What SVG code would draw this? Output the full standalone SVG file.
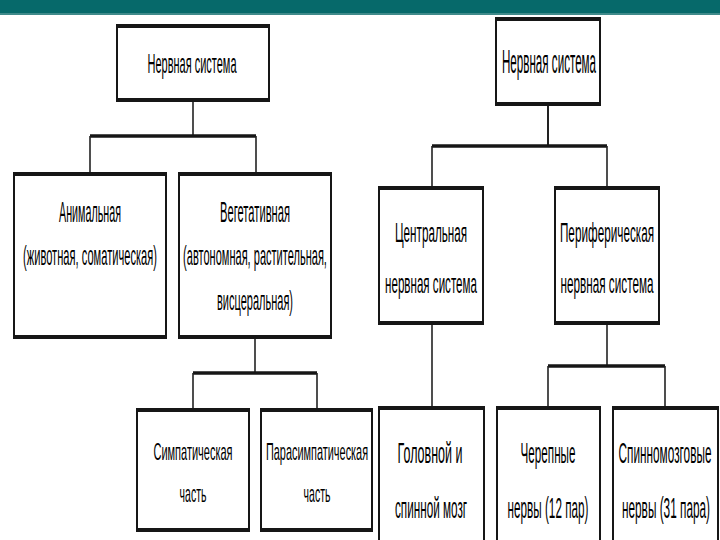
<svg xmlns="http://www.w3.org/2000/svg" width="720" height="540" viewBox="0 0 720 540">
<style>
.box{fill:#fff;stroke:#161616;stroke-width:2}
.edge{stroke:#161616;stroke-width:4;fill:none}
.conn{stroke:#222;stroke-width:1.6;fill:none}
.bar{stroke:#161616;stroke-width:3.5;fill:none}
text{font-family:"Liberation Sans",Arial,sans-serif;fill:#000;text-anchor:middle}
.f24{font-size:24px}.f28{font-size:27px}.f30{font-size:30px}.f34{font-size:34px}
</style>
<rect x="0" y="0" width="720" height="14" fill="#06696A"/>
<rect x="0" y="13" width="720" height="2" fill="#3f8a8a"/>
<rect x="0" y="15" width="720" height="525" fill="#fff"/>

<g id="connectors">
  <line class="conn" x1="193" y1="100" x2="193" y2="136"/>
  <line class="bar" x1="90" y1="136" x2="256" y2="136"/>
  <line class="conn" x1="90" y1="136" x2="90" y2="174"/>
  <line class="conn" x1="256" y1="136" x2="256" y2="174"/>
  <line class="conn" x1="255" y1="337" x2="255" y2="373"/>
  <line class="bar" x1="193" y1="373" x2="317" y2="373"/>
  <line class="conn" x1="193" y1="373" x2="193" y2="410"/>
  <line class="conn" x1="317" y1="373" x2="317" y2="410"/>

  <line class="conn" x1="548" y1="104" x2="548" y2="146" style="stroke-width:2"/>
  <line class="bar" x1="432" y1="146" x2="607" y2="146"/>
  <line class="conn" x1="432" y1="146" x2="432" y2="188"/>
  <line class="conn" x1="607" y1="146" x2="607" y2="188"/>
  <line class="conn" x1="432" y1="323" x2="432" y2="408"/>
  <line class="conn" x1="607" y1="323" x2="607" y2="366"/>
  <line class="bar" x1="548" y1="366" x2="665" y2="366"/>
  <line class="conn" x1="548" y1="366" x2="548" y2="408"/>
  <line class="conn" x1="665" y1="366" x2="665" y2="408"/>
</g>

<g id="n1">
  <rect class="box" x="117" y="26" width="152" height="74"/>
  <line class="edge" x1="116" y1="26" x2="270" y2="26"/><line class="edge" x1="116" y1="100" x2="270" y2="100"/>
  <text class="f28" transform="translate(192,73) scale(0.392,1)" textLength="227" lengthAdjust="spacingAndGlyphs">Нервная система</text>
</g>
<g id="n2">
  <rect class="box" x="14" y="174" width="152" height="163"/>
  <line class="edge" x1="13" y1="174" x2="167" y2="174"/><line class="edge" x1="13" y1="337" x2="167" y2="337"/>
  <text class="f30" transform="translate(90,222) scale(0.358,1)" textLength="173" lengthAdjust="spacingAndGlyphs">Анимальная</text>
  <text class="f28" transform="translate(90,265) scale(0.396,1)" textLength="338" lengthAdjust="spacingAndGlyphs">(животная, соматическая)</text>
</g>
<g id="n3">
  <rect class="box" x="179" y="174" width="152" height="163"/>
  <line class="edge" x1="178" y1="174" x2="332" y2="174"/><line class="edge" x1="178" y1="337" x2="332" y2="337"/>
  <text class="f30" transform="translate(255,222) scale(0.367,1)" textLength="191" lengthAdjust="spacingAndGlyphs">Вегетативная</text>
  <text class="f28" transform="translate(255,265) scale(0.392,1)" textLength="367" lengthAdjust="spacingAndGlyphs">(автономная, растительная,</text>
  <text class="f28" transform="translate(255,310) scale(0.392,1)" textLength="194" lengthAdjust="spacingAndGlyphs">висцеральная)</text>
</g>
<g id="n4">
  <rect class="box" x="137" y="410" width="112" height="120"/>
  <line class="edge" x1="136" y1="410" x2="250" y2="410"/><line class="edge" x1="136" y1="530" x2="250" y2="530"/>
  <text class="f24" transform="translate(193,460) scale(0.457,1)" textLength="173" lengthAdjust="spacingAndGlyphs">Симпатическая</text>
  <text class="f24" transform="translate(193,502) scale(0.44,1)" textLength="61" lengthAdjust="spacingAndGlyphs">часть</text>
</g>
<g id="n5">
  <rect class="box" x="261" y="410" width="111" height="120"/>
  <line class="edge" x1="260" y1="410" x2="373" y2="410"/><line class="edge" x1="260" y1="530" x2="373" y2="530"/>
  <text class="f24" transform="translate(317,460) scale(0.454,1)" textLength="225" lengthAdjust="spacingAndGlyphs">Парасимпатическая</text>
  <text class="f24" transform="translate(317,502) scale(0.44,1)" textLength="61" lengthAdjust="spacingAndGlyphs">часть</text>
</g>

<g id="n6">
  <rect class="box" x="496" y="19" width="104" height="85"/>
  <line class="edge" x1="495" y1="19" x2="601" y2="19"/><line class="edge" x1="495" y1="104" x2="601" y2="104"/>
  <text class="f34" transform="translate(549,73) scale(0.341,1)" textLength="276" lengthAdjust="spacingAndGlyphs">Нервная система</text>
</g>
<g id="n7">
  <rect class="box" x="379" y="188" width="104" height="135"/>
  <line class="edge" x1="378" y1="188" x2="484" y2="188"/><line class="edge" x1="378" y1="323" x2="484" y2="323"/>
  <text class="f28" transform="translate(431,242) scale(0.417,1)" textLength="173" lengthAdjust="spacingAndGlyphs">Центральная</text>
  <text class="f28" transform="translate(431,293) scale(0.414,1)" textLength="222" lengthAdjust="spacingAndGlyphs">нервная система</text>
</g>
<g id="n8">
  <rect class="box" x="555" y="188" width="104" height="135"/>
  <line class="edge" x1="554" y1="188" x2="660" y2="188"/><line class="edge" x1="554" y1="323" x2="660" y2="323"/>
  <text class="f28" transform="translate(607,242) scale(0.415,1)" textLength="227" lengthAdjust="spacingAndGlyphs">Периферическая</text>
  <text class="f28" transform="translate(607,293) scale(0.414,1)" textLength="225" lengthAdjust="spacingAndGlyphs">нервная система</text>
</g>
<g id="n9">
  <rect class="box" x="379" y="408" width="105" height="145"/>
  <line class="edge" x1="378" y1="408" x2="485" y2="408"/>
  <text class="f30" transform="translate(430,463) scale(0.41,1)" textLength="158" lengthAdjust="spacingAndGlyphs">Головной и</text>
  <text class="f30" transform="translate(431,518) scale(0.39,1)" textLength="185" lengthAdjust="spacingAndGlyphs">спинной мозг</text>
</g>
<g id="n10">
  <rect class="box" x="497" y="408" width="103" height="145"/>
  <line class="edge" x1="496" y1="408" x2="601" y2="408"/>
  <text class="f30" transform="translate(548,463) scale(0.39,1)" textLength="141" lengthAdjust="spacingAndGlyphs">Черепные</text>
  <text class="f30" transform="translate(548,518) scale(0.366,1)" textLength="221" lengthAdjust="spacingAndGlyphs">нервы (12 пар)</text>
</g>
<g id="n11">
  <rect class="box" x="613" y="408" width="105" height="145"/>
  <line class="edge" x1="612" y1="408" x2="719" y2="408"/>
  <text class="f30" transform="translate(665,463) scale(0.392,1)" textLength="237" lengthAdjust="spacingAndGlyphs">Спинномозговые</text>
  <text class="f30" transform="translate(666,518) scale(0.37,1)" textLength="238" lengthAdjust="spacingAndGlyphs">нервы (31 пара)</text>
</g>
</svg>
